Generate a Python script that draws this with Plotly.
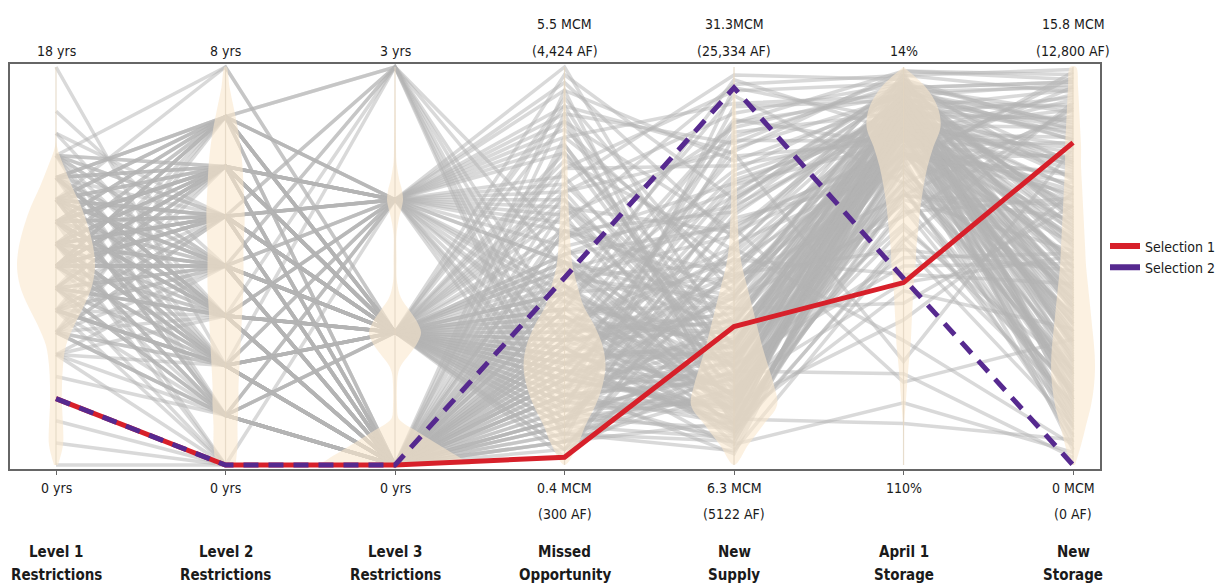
import plotly.graph_objects as go

# ---------------- axis definitions ----------------
name_line1 = ["Level 1", "Level 2", "Level 3", "Missed", "New", "April 1", "New"]
name_line2 = ["Restrictions", "Restrictions", "Restrictions", "Opportunity", "Supply", "Storage", "Storage"]
top_line1 = ["", "", "", "5.5 MCM", "31.3MCM", "", "15.8 MCM"]
top_line2 = ["18 yrs", "8 yrs", "3 yrs", "(4,424 AF)", "(25,334 AF)", "14%", "(12,800 AF)"]
bot_line1 = ["0 yrs", "0 yrs", "0 yrs", "0.4 MCM", "6.3 MCM", "110%", "0 MCM"]
bot_line2 = ["", "", "", "(300 AF)", "(5122 AF)", "", "(0 AF)"]
axis_bottom = [0, 0, 0, 0.4, 6.3, 110, 0]
axis_top = [18, 8, 3, 5.5, 31.3, 14, 15.8]

# ---------------- gray solutions (one value per axis) ----------------
l1 = [13, 12, 14, 11, 10, 15, 9, 12, 14, 8,
      7, 11, 6, 13, 10, 9, 12, 5, 8, 14,
      12, 10, 6, 9, 11, 7, 13, 8, 10, 12,
      12, 9, 10, 11, 12, 13, 14, 14, 6, 9,
      10, 11, 8, 12, 7, 13, 9, 6, 5, 11,
      9, 10, 12, 14, 8, 11, 7, 13, 6, 10,
      11, 12, 9, 8, 10, 13, 7, 14, 12, 9,
      3, 2, 4, 1, 0, 5, 18, 16, 15, 5,
      6, 7, 8, 9, 10, 11, 12, 13, 14, 6,
      8, 9, 10, 7, 11, 12, 9, 10, 8, 13,
      7, 9, 11, 6, 10, 12, 8, 14, 5, 11,
      10, 8, 12, 9, 7, 13, 11, 6, 10, 9,
      10, 9, 11, 8, 12, 7, 10, 13, 9, 11,
      9, 11, 7, 10, 12, 8, 13, 6, 10, 9,
      12, 8, 10, 11, 9, 13, 7, 10, 12, 8,
      11, 9, 8, 12, 10, 7, 13, 9, 11, 6,
      10, 12, 9, 11, 13, 8, 10, 7, 12, 11,
      9, 10, 11, 12, 8, 13, 10, 9, 14, 11]
l2 = [7, 5, 4, 3, 2, 5, 4, 7, 6, 6,
      5, 6, 1, 3, 2, 7, 6, 0, 4, 5,
      2, 3, 4, 5, 6, 7, 1, 6, 5, 3,
      8, 7, 6, 5, 4, 3, 2, 8, 6, 5,
      7, 4, 3, 6, 2, 5, 4, 7, 3, 2,
      6, 5, 7, 4, 1, 6, 5, 3, 2, 4,
      3, 5, 2, 4, 6, 7, 4, 6, 1, 3,
      0, 0, 1, 0, 0, 1, 2, 4, 3, 2,
      5, 4, 3, 2, 1, 0, 5, 4, 3, 1,
      6, 7, 4, 2, 3, 1, 5, 2, 0, 6,
      3, 1, 5, 2, 4, 2, 7, 1, 4, 6,
      5, 2, 3, 6, 1, 4, 7, 3, 0, 2,
      4, 6, 5, 3, 7, 2, 5, 6, 4, 7,
      3, 5, 2, 6, 4, 1, 3, 5, 2, 4,
      6, 4, 7, 2, 5, 3, 6, 1, 4, 5,
      2, 4, 1, 3, 5, 0, 2, 6, 3, 1,
      6, 5, 7, 4, 6, 3, 5, 2, 1, 7,
      5, 3, 6, 4, 2, 7, 1, 6, 5, 3]
l3 = [3, 3, 3, 3, 3, 3, 3, 3, 2, 2,
      2, 2, 2, 2, 2, 2, 2, 2, 2, 2,
      2, 2, 2, 2, 2, 2, 2, 2, 2, 2,
      1, 1, 1, 1, 1, 1, 1, 1, 1, 1,
      1, 1, 1, 1, 1, 1, 1, 1, 1, 1,
      1, 1, 1, 1, 1, 1, 1, 1, 1, 1,
      1, 1, 1, 1, 1, 1, 1, 1, 1, 1,
      0, 0, 0, 0, 0, 0, 0, 0, 0, 0,
      0, 0, 0, 0, 0, 0, 0, 0, 0, 0,
      0, 0, 0, 0, 0, 0, 0, 0, 0, 0,
      0, 0, 0, 0, 0, 0, 0, 0, 0, 0,
      0, 0, 0, 0, 0, 0, 0, 0, 0, 0,
      1, 1, 1, 1, 1, 1, 1, 1, 1, 1,
      0, 0, 0, 0, 0, 0, 0, 0, 0, 0,
      1, 1, 1, 1, 1, 1, 1, 1, 1, 1,
      0, 0, 0, 0, 0, 0, 0, 0, 0, 0,
      2, 2, 2, 2, 2, 2, 2, 2, 2, 2,
      1, 1, 1, 1, 1, 1, 1, 1, 1, 1]
mo = [2.9, 1.5, 0.9, 2.2, 1.2, 3.3, 0.7, 1.9, 4.6, 3.8,
      5.3, 4.1, 3.0, 2.5, 4.9, 1.4, 3.5, 0.8, 2.0, 5.0,
      4.4, 2.7, 3.9, 1.1, 4.7, 2.3, 3.2, 5.5, 1.7, 3.6,
      2.0, 1.6, 3.1, 0.7, 1.3, 2.4, 1.9, 4.2, 1.0, 2.8,
      1.5, 2.2, 0.9, 1.8, 3.4, 1.2, 2.6, 0.6, 1.7, 2.1,
      1.4, 2.9, 1.9, 0.8, 2.4, 1.1, 3.7, 1.6, 2.0, 1.3,
      1.7, 2.3, 1.0, 3.1, 1.5, 0.5, 2.7, 1.8, 1.2, 2.5,
      1.0, 0.6, 1.5, 2.0, 0.8, 2.6, 1.3, 3.4, 1.8, 0.9,
      1.6, 2.1, 1.1, 1.9, 0.7, 2.8, 1.4, 3.9, 1.7, 2.3,
      1.2, 1.8, 2.4, 0.9, 1.5, 3.2, 2.0, 1.3, 4.5, 1.7,
      2.2, 1.1, 1.6, 2.9, 0.8, 1.9, 1.4, 2.5, 1.0, 3.5,
      1.3, 2.7, 1.8, 1.0, 2.1, 1.5, 3.0, 0.7, 1.6, 2.4,
      3.9, 4.8, 2.6, 5.1, 3.3, 4.3, 2.1, 5.4, 3.0, 4.0,
      3.1, 4.6, 2.4, 3.7, 5.2, 2.8, 4.2, 3.4, 2.0, 4.9,
      0.6, 1.2, 2.3, 1.6, 0.9, 2.0, 1.4, 2.9, 1.1, 1.8,
      0.5, 1.0, 1.9, 1.3, 0.7, 2.2, 1.5, 0.9, 2.6, 1.2,
      3.0, 4.5, 2.1, 5.2, 3.7, 2.6, 4.0, 1.3, 4.8, 3.4,
      2.6, 3.6, 1.5, 4.4, 2.2, 3.0, 1.7, 5.0, 2.4, 3.8]
ns = [12.5, 9.8, 22.0, 8.4, 15.6, 27.5, 10.9, 18.3, 29.0, 13.2,
      20.5, 11.8, 16.9, 24.8, 9.2, 14.0, 30.2, 7.8, 19.6, 25.9,
      15.2, 10.6, 28.4, 12.1, 17.7, 8.9, 22.6, 13.5, 11.2, 26.7,
      10.4, 13.8, 21.3, 9.0, 11.7, 16.2, 8.2, 25.1, 12.9, 19.0,
      9.6, 14.6, 11.0, 7.4, 17.3, 10.1, 12.4, 20.2, 8.7, 15.8,
      11.9, 9.3, 13.1, 23.4, 10.7, 8.1, 15.0, 12.6, 27.2, 9.9,
      14.2, 10.8, 18.6, 9.5, 12.0, 16.5, 7.6, 11.3, 21.8, 13.6,
      8.6, 12.3, 10.0, 15.4, 7.2, 9.7, 11.6, 13.9, 18.0, 8.0,
      10.9, 8.3, 14.4, 9.1, 12.8, 20.7, 7.0, 11.4, 16.8, 10.2,
      9.4, 13.3, 8.8, 11.8, 23.9, 10.5, 15.9, 7.7, 12.2, 17.9,
      12.7, 10.3, 9.0, 14.9, 11.1, 8.5, 19.3, 10.7, 13.0, 16.1,
      8.9, 11.5, 13.7, 10.6, 9.8, 22.4, 12.5, 14.1, 9.2, 30.5,
      26.0, 21.0, 29.5, 17.0, 24.0, 19.8, 28.0, 23.0, 16.0, 30.8,
      23.5, 18.5, 27.8, 20.9, 25.4, 16.7, 29.8, 22.2, 14.7, 26.5,
      18.8, 22.8, 14.0, 26.2, 19.9, 24.5, 17.1, 21.5, 28.8, 13.0,
      21.2, 17.6, 25.7, 15.1, 30.0, 19.2, 23.0, 26.9, 18.1, 13.4,
      9.9, 12.8, 15.3, 8.6, 11.0, 23.2, 13.9, 27.8, 10.2, 18.2,
      13.1, 9.0, 16.8, 11.6, 20.0, 8.4, 24.2, 12.3, 14.8, 10.0]
a1 = [25, 31, 22, 44, 28, 19, 36, 58, 21, 27,
      17, 34, 26, 20, 48, 29, 16, 39, 24, 85,
      23, 37, 18, 52, 30, 24, 27, 15, 66, 32,
      28, 22, 33, 41, 25, 19, 55, 30, 27, 35,
      20, 29, 46, 23, 31, 75, 26, 38, 21, 34,
      27, 24, 36, 18, 43, 30, 22, 62, 25, 32,
      33, 26, 21, 49, 28, 35, 95, 24, 40, 19,
      38, 24, 30, 20, 57, 27, 33, 22, 45, 29,
      26, 34, 23, 68, 31, 21, 28, 42, 18, 36,
      29, 20, 37, 25, 32, 53, 24, 27, 88, 30,
      31, 23, 27, 47, 20, 35, 26, 39, 22, 71,
      25, 44, 21, 33, 28, 19, 60, 24, 100, 30,
      15, 21, 42, 18, 26, 16, 33, 20, 24, 17,
      19, 28, 15, 35, 22, 50, 18, 25, 30, 16,
      23, 17, 29, 21, 80, 26, 19, 34, 22, 45,
      90, 24, 32, 20, 27, 64, 23, 18, 38, 26,
      27, 22, 31, 45, 19, 24, 36, 21, 29, 17,
      42, 18, 25, 30, 21, 56, 28, 16, 35, 23]
nst = [9.5, 4.1, 14.2, 2.8, 6.6, 12.0, 0.9, 7.7, 15.1, 5.3,
       11.3, 3.6, 8.9, 13.6, 1.8, 10.4, 14.8, 6.0, 4.7, 12.6,
       7.2, 15.4, 9.8, 3.1, 13.0, 5.8, 11.9, 2.2, 8.3, 14.5,
       5.6, 10.2, 12.8, 3.9, 7.1, 14.0, 2.5, 9.0, 4.4, 11.5,
       6.4, 1.5, 8.5, 13.2, 3.3, 10.8, 5.0, 15.6, 7.9, 2.0,
       9.3, 4.8, 12.3, 6.9, 1.2, 14.7, 3.7, 8.0, 11.0, 5.9,
       7.4, 13.8, 2.7, 10.6, 5.2, 8.8, 0.5, 12.1, 4.0, 15.2,
       3.4, 7.6, 5.5, 10.0, 1.6, 12.7, 4.3, 8.7, 14.1, 6.2,
       6.8, 3.0, 11.4, 5.4, 9.6, 2.4, 13.4, 7.0, 4.6, 15.0,
       8.2, 12.9, 1.9, 6.5, 10.9, 3.8, 14.3, 5.1, 0.3, 9.1,
       4.9, 9.9, 7.3, 2.9, 13.1, 6.0, 11.7, 3.5, 8.6, 10.3,
       7.8, 2.3, 10.1, 5.7, 12.4, 4.2, 8.4, 14.9, 1.0, 6.6,
       15.5, 11.8, 13.9, 9.7, 14.6, 7.5, 12.2, 15.0, 10.5, 13.3,
       12.9, 8.1, 15.3, 11.2, 6.3, 14.2, 9.4, 13.7, 3.2, 15.7,
       1.4, 6.1, 3.6, 8.9, 0.8, 5.3, 2.6, 7.0, 4.1, 9.8,
       5.0, 0.6, 10.7, 2.9, 12.0, 7.2, 1.7, 13.5, 4.5, 11.0,
       6.3, 13.4, 2.1, 10.3, 15.2, 4.9, 11.6, 8.4, 14.1, 7.8,
       3.8, 9.2, 1.1, 12.6, 6.7, 14.4, 8.1, 2.6, 10.8, 5.6]

# ---------------- highlighted selections ----------------
selection1 = [3, 0, 0, 0.5, 15.0, 66, 12.8]
selection2 = [3, 0, 0, 2.8, 30.0, 65, 0]

# ---------------- violin densities (relative half-widths) ----------------
vio_levels = [0, 0.05, 0.1, 0.15, 0.2, 0.25, 0.3, 0.35, 0.4, 0.45, 0.5,
              0.55, 0.6, 0.65, 0.7, 0.75, 0.8, 0.85, 0.9, 0.95, 1.0]
vio_l1 = [2, 7, 7, 6, 6, 7, 10, 18, 28, 36, 39, 37, 32, 25, 16, 8, 1, 0, 0, 0, 0]
vio_l2 = [10, 12, 12, 13, 13, 14, 15, 16, 17, 18, 18, 18, 19, 19, 18, 17, 15, 12, 8, 4, 1]
vio_l3_levels = [0, 0.01, 0.05, 0.08, 0.11, 0.12, 0.15, 0.2, 0.23, 0.25, 0.28, 0.31, 0.333,
                 0.36, 0.39, 0.42, 0.46, 0.52, 0.58, 0.62, 0.65, 0.667, 0.69, 0.72, 0.76,
                 0.8, 0.9, 1.0]
vio_l3 = [76, 70, 44, 25, 6, 3, 2, 2, 3, 6, 15, 23, 26, 22, 14, 6, 2, 1.5, 1.5, 4, 7, 8, 7,
          4, 1.5, 1, 0.5, 0]
vio_mo = [0, 13, 21, 31, 38, 41, 38, 30, 19, 13, 8, 6, 5, 4, 3, 3, 2, 2, 1.5, 1, 0]
vio_ns = [0, 14, 29, 43, 40, 34, 28, 23, 18, 13, 8, 5, 4, 3, 3, 3, 3, 2.5, 2, 1, 0]
vio_a1 = [0, 0, 0.5, 2, 3.5, 5, 7, 8, 9, 10, 12, 13, 15, 17, 20, 24, 30, 37, 34, 22, 0]
vio_nst = [2, 8, 13, 18, 21, 22, 21, 19, 17, 15, 13, 12, 11, 10, 9, 8, 8, 7, 6, 5, 3]

VIO_SCALE = 1 / 169.5
FONT = "DejaVu Sans Condensed, Liberation Sans Narrow, sans-serif"
GRAY = "rgba(180,180,180,0.5)"
VIO_FILL = "rgba(250,232,205,0.6)"
RED = "#d7202a"
PURPLE = "#56298f"

columns = [l1, l2, l3, mo, ns, a1, nst]
n_axes = len(axis_top)
xs = list(range(n_axes))


def frac(k, v):
    return (v - axis_bottom[k]) / (axis_top[k] - axis_bottom[k])


fig = go.Figure()

# gray lines
for j in range(len(l1)):
    ys = [frac(k, columns[k][j]) for k in range(n_axes)]
    fig.add_trace(go.Scatter(x=xs, y=ys, mode="lines",
                             line=dict(color=GRAY, width=3.5),
                             hoverinfo="skip", showlegend=False))

# violins
violins = [(vio_levels, vio_l1), (vio_levels, vio_l2), (vio_l3_levels, vio_l3),
           (vio_levels, vio_mo), (vio_levels, vio_ns), (vio_levels, vio_a1),
           (vio_levels, vio_nst)]
for k, (lev, dens) in enumerate(violins):
    vx = [k + d * VIO_SCALE for d in dens] + [k - d * VIO_SCALE for d in reversed(dens)]
    vy = list(lev) + list(reversed(lev))
    fig.add_trace(go.Scatter(x=vx, y=vy, mode="lines", fill="toself",
                             fillcolor=VIO_FILL, line=dict(width=0, shape="spline"),
                             hoverinfo="skip", showlegend=False))
    fig.add_trace(go.Scatter(x=[k, k], y=[0, 1], mode="lines",
                             line=dict(color="rgba(225,212,192,0.8)", width=1.2),
                             hoverinfo="skip", showlegend=False))

# selections
fig.add_trace(go.Scatter(x=xs, y=[frac(k, v) for k, v in enumerate(selection1)], mode="lines",
                         line=dict(color=RED, width=5), showlegend=False, hoverinfo="skip"))
fig.add_trace(go.Scatter(x=xs, y=[frac(k, v) for k, v in enumerate(selection2)], mode="lines",
                         line=dict(color=PURPLE, width=5, dash="15px,10px"),
                         showlegend=False, hoverinfo="skip"))
fig.add_trace(go.Scatter(x=[None], y=[None], mode="lines", name="Selection 1",
                         line=dict(color=RED, width=6)))
fig.add_trace(go.Scatter(x=[None], y=[None], mode="lines", name="Selection 2",
                         line=dict(color=PURPLE, width=6)))

# labels (page has an 8px body margin, plot area spans y 64..469 on the page)
annotations = []


def py_to_paper(py):
    return (469 - py) / 405


for k in range(n_axes):
    for text, py, bold in [(top_line1[k], 24, False), (top_line2[k], 51, False),
                           (bot_line1[k], 488, False), (bot_line2[k], 514, False),
                           (name_line1[k], 552, True), (name_line2[k], 575, True)]:
        if not text:
            continue
        annotations.append(dict(
            x=k, xref="x", y=py_to_paper(py), yref="paper", yanchor="middle",
            xanchor="center", showarrow=False,
            text=f"<b>{text}</b>" if bold else text,
            font=dict(family=FONT, size=15 if bold else 14, color="#1a1a1a")))

FIG_W, FIG_H = 1220, 580
fig.update_layout(
    autosize=False,
    width=FIG_W, height=FIG_H,
    margin=dict(l=2, r=128, t=56, b=119),
    paper_bgcolor="white", plot_bgcolor="white",
    xaxis=dict(range=[-0.2714, 6.159], showgrid=False, zeroline=False,
               showline=True, mirror=True, linecolor="#666", linewidth=1.5,
               tickvals=xs, ticks="outside", ticklen=4, tickcolor="#666",
               showticklabels=False, fixedrange=True),
    yaxis=dict(range=[-0.01, 1.0075], showgrid=False, zeroline=False,
               showline=True, mirror=True, linecolor="#666", linewidth=1.5,
               showticklabels=False, ticks="", fixedrange=True),
    legend=dict(xref="container", yref="container",
                x=1097 / FIG_W, xanchor="left",
                y=1 - 249 / FIG_H, yanchor="middle",
                font=dict(family=FONT, size=14, color="#1a1a1a"),
                bgcolor="rgba(0,0,0,0)", itemwidth=30, tracegroupgap=0),
    annotations=annotations,
    showlegend=True,
)

fig.write_html("out.html")
